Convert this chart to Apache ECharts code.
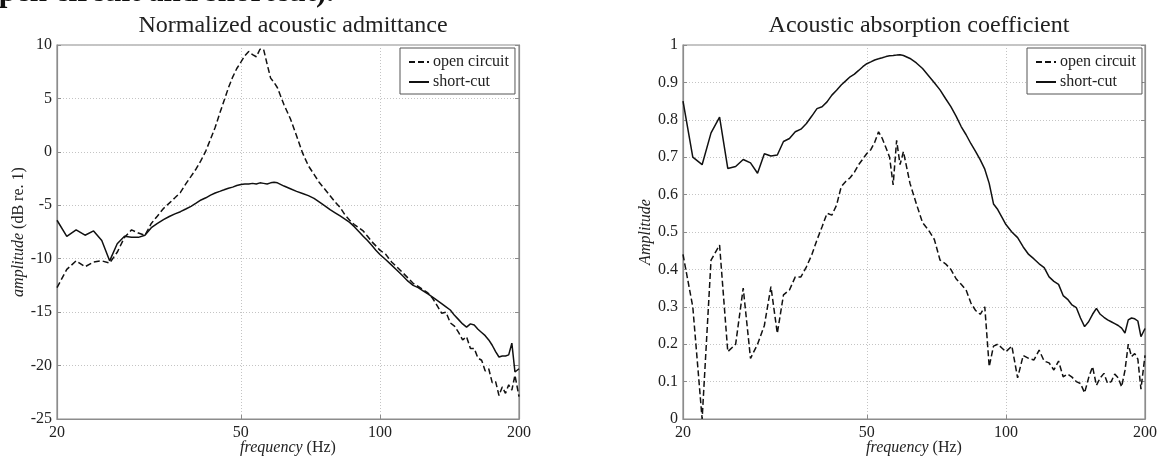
<!DOCTYPE html>
<html>
<head>
<meta charset="utf-8">
<title>Normalized acoustic admittance / Acoustic absorption coefficient</title>
<script src="https://cdn.jsdelivr.net/npm/echarts@6/dist/echarts.min.js"></script>
<style>
  html, body { margin: 0; padding: 0; background: #fff; }
  #chart { width: 1162px; height: 457px; }
</style>
</head>
<body>
<div id="chart"></div>
<script>
// frequency grid (Hz), shared by both panels
const freq = [
  20, 21, 22, 23, 24, 25, 26, 27, 28, 29,
  30, 31, 32, 33, 34, 35, 36, 37, 38, 39,
  40, 41, 42, 43, 44, 45, 46, 47, 48, 49,
  50, 51, 52, 53, 54, 55, 56, 57, 58, 59,
  60,
  62, 64, 66, 68, 70, 72, 74, 76, 78, 80,
  82, 84, 86, 88, 90, 92, 94, 96, 98, 100,
  103, 106, 109, 112, 115, 118, 121, 124, 127, 130,
  133, 136, 139, 142, 145, 148, 151, 154, 157, 160,
  163, 166, 169, 172, 175, 178, 181, 184, 187, 190,
  193, 196, 200
]

// normalized acoustic admittance, dB re. 1
const admOpen = [
  -12.7, -11.0, -10.2, -10.75, -10.3, -10.2, -10.4, -9.4, -8.0, -7.3,
  -7.6, -7.8, -6.7, -6.0, -5.3, -4.8, -4.3, -3.8, -3.0, -2.3,
  -1.6, -0.8, 0.1, 1.2, 2.3, 3.6, 4.8, 6.0, 7.0, 7.8,
  8.4, 9.0, 9.4, 9.1, 8.9, 9.6, 9.6, 8.2, 6.9, 6.5,
  6.0,
  4.4, 3.1, 1.5, -0.1, -1.3, -2.1, -2.9, -3.5, -4.1, -4.7,
  -5.2, -5.9, -6.4, -6.8, -7.1, -7.4, -7.9, -8.4, -8.8, -9.2,
  -9.6, -10.3, -10.8, -11.3, -11.8, -12.3, -12.6, -12.9, -13.2, -13.7,
  -14.4, -15.1, -15.0, -16.0, -16.3, -16.9, -17.6, -17.3, -18.4, -18.4,
  -19.3, -19.5, -20.5, -20.3, -21.6, -21.5, -22.8, -22.0, -22.6, -21.8,
  -22.3, -20.9, -22.9
]
const admShort = [
  -6.4, -7.9, -7.3, -7.8, -7.4, -8.3, -10.2, -8.6, -7.9, -8.0,
  -8.0, -7.8, -7.1, -6.7, -6.35, -6.05, -5.8, -5.6, -5.35, -5.1,
  -4.8, -4.5, -4.3, -4.05, -3.85, -3.7, -3.55, -3.4, -3.3, -3.15,
  -3.05, -3.0, -3.0, -2.95, -3.0, -2.9, -2.95, -3.0, -2.9, -2.85,
  -2.9,
  -3.2, -3.45, -3.7, -3.9, -4.1, -4.35, -4.7, -5.05, -5.4, -5.7,
  -6.0, -6.3, -6.6, -7.0, -7.45, -7.9, -8.3, -8.75, -9.2, -9.6,
  -10.1, -10.6, -11.1, -11.6, -12.1, -12.5, -12.7, -13.0, -13.3, -13.6,
  -13.9, -14.2, -14.5, -14.8, -15.3, -15.7, -16.1, -16.4, -16.1, -16.2,
  -16.6, -16.9, -17.2, -17.6, -18.1, -18.7, -19.2, -19.1, -19.1, -19.0,
  -17.9, -20.6, -20.3
]

// acoustic absorption coefficient
const absOpen = [
  0.44, 0.30, 0.0, 0.425, 0.465, 0.18, 0.20, 0.35, 0.162, 0.20,
  0.25, 0.354, 0.229, 0.332, 0.345, 0.38, 0.38, 0.407, 0.439, 0.479,
  0.514, 0.55, 0.545, 0.572, 0.621, 0.635, 0.645, 0.66, 0.68, 0.695,
  0.71, 0.72, 0.74, 0.768, 0.75, 0.725, 0.70, 0.626, 0.745, 0.68,
  0.715,
  0.63, 0.575, 0.525, 0.505, 0.48, 0.425, 0.415, 0.40, 0.375, 0.36,
  0.345, 0.31, 0.29, 0.28, 0.30, 0.14, 0.195, 0.20, 0.19, 0.18,
  0.195, 0.11, 0.17, 0.162, 0.158, 0.184, 0.155, 0.15, 0.131, 0.155,
  0.113, 0.12, 0.112, 0.10, 0.095, 0.07, 0.11, 0.14, 0.09, 0.11,
  0.122, 0.095, 0.10, 0.12, 0.11, 0.086, 0.13, 0.20, 0.167, 0.175,
  0.16, 0.08, 0.17
]
const absShort = [
  0.85, 0.70, 0.68, 0.765, 0.807, 0.67, 0.675, 0.694, 0.685, 0.657,
  0.709, 0.703, 0.706, 0.742, 0.75, 0.768, 0.775, 0.79, 0.81, 0.83,
  0.835, 0.848, 0.866, 0.879, 0.893, 0.904, 0.915, 0.922, 0.932, 0.942,
  0.95, 0.955, 0.96, 0.963, 0.966, 0.969, 0.971, 0.972, 0.973, 0.974,
  0.972,
  0.964, 0.952, 0.937, 0.918, 0.899, 0.88, 0.857, 0.835, 0.81, 0.782,
  0.76, 0.736, 0.715, 0.693, 0.668, 0.63, 0.575, 0.56, 0.54, 0.52,
  0.50, 0.485, 0.46, 0.44, 0.428, 0.415, 0.405, 0.38, 0.368, 0.36,
  0.33, 0.32, 0.305, 0.298, 0.27, 0.247, 0.26, 0.28, 0.296, 0.28,
  0.272, 0.265, 0.26, 0.255, 0.25, 0.243, 0.23, 0.265, 0.27, 0.268,
  0.262, 0.22, 0.242
]

const freqTicks = [20, 50, 100, 200]
const seriesNames = ['open circuit', 'short-cut']

const serif = "'Liberation Serif', 'Times New Roman', serif"
const ink = '#222'
const frame = '#8c8c8c'
const gridLine = '#c4c4c4'

let chart = echarts.init(document.getElementById('chart'))

function pairs(ys) {
  return freq.map((f, i) => [f, ys[i]])
}

function xAxisOf(gridIndex) {
  return {
    type: 'log',
    logBase: 10,
    gridIndex: gridIndex,
    min: 20,
    max: 200,
    name: '{i|frequency} (Hz)',
    nameLocation: 'middle',
    nameGap: 21,
    nameMoveOverlap: false,
    nameTextStyle: {
      fontFamily: serif, fontSize: 16, color: ink,
      rich: { i: { fontFamily: serif, fontSize: 16, color: ink, fontStyle: 'italic' } }
    },
    axisLine: { show: true, onZero: false, lineStyle: { color: frame, width: 1.2 } },
    axisTick: { show: true, inside: true, length: 4, customValues: freqTicks, lineStyle: { color: frame } },
    axisLabel: { customValues: freqTicks, fontFamily: serif, fontSize: 16, color: ink, margin: 6, formatter: v => String(Math.round(v)) },
    splitLine: { show: true, lineStyle: { color: gridLine, type: [1, 2] } },
    minorTick: { show: false },
    minorSplitLine: { show: false }
  }
}

function yAxisOf(gridIndex, min, max, interval, name, gap, fmt) {
  return {
    type: 'value',
    gridIndex: gridIndex,
    min: min,
    max: max,
    interval: interval,
    name: name,
    nameLocation: 'middle',
    nameGap: gap,
    nameTextStyle: {
      fontFamily: serif, fontSize: 16, color: ink,
      rich: { i: { fontFamily: serif, fontSize: 16, color: ink, fontStyle: 'italic' } }
    },
    axisLine: { show: true, onZero: false, lineStyle: { color: frame, width: 1.2 } },
    axisTick: { show: true, inside: true, length: 4, lineStyle: { color: frame } },
    axisLabel: { fontFamily: serif, fontSize: 16, color: ink, margin: 5, formatter: fmt },
    splitLine: { show: true, lineStyle: { color: gridLine, type: [1, 2] } }
  }
}

// unlabeled right-hand copy, only for the box ticks
function yTicksRight(gridIndex, min, max, interval) {
  return {
    type: 'value',
    gridIndex: gridIndex,
    position: 'right',
    min: min,
    max: max,
    interval: interval,
    axisLine: { show: true, onZero: false, lineStyle: { color: frame, width: 1.2 } },
    axisTick: { show: true, inside: true, length: 4, lineStyle: { color: frame } },
    axisLabel: { show: false },
    splitLine: { show: false }
  }
}

function lineOf(name, data, xi, yi, dashed) {
  return {
    name: name,
    type: 'line',
    xAxisIndex: xi,
    yAxisIndex: yi,
    data: data,
    color: '#111',
    symbol: 'none',
    showSymbol: false,
    smooth: false,
    clip: true,
    lineStyle: { color: '#111', width: 1.5, type: dashed ? [6, 3] : 'solid' },
    emphasis: { disabled: true }
  }
}

function legendAt(left) {
  return {
    left: left,
    top: 48,
    orient: 'vertical',
    data: seriesNames,
    backgroundColor: '#fff',
    borderColor: '#555',
    borderWidth: 1,
    borderRadius: 0,
    padding: [6, 6, 4, 8],
    itemGap: 4,
    itemWidth: 20,
    itemHeight: 16,
    selectedMode: false,
    itemStyle: { opacity: 0 },
    textStyle: { fontFamily: serif, fontSize: 16, color: ink, padding: [0, 0, 0, -1] }
  }
}

let option = {
  animation: false,
  backgroundColor: '#fff',
  title: [
    { text: 'Normalized acoustic admittance', left: 288, top: 9, textAlign: 'center',
      textStyle: { fontFamily: serif, fontSize: 24, fontWeight: 'normal', color: ink } },
    { text: 'Acoustic absorption coefficient', left: 914, top: 9, textAlign: 'center',
      textStyle: { fontFamily: serif, fontSize: 24, fontWeight: 'normal', color: ink } }
  ],
  graphic: [
    {
      type: 'text',
      left: -27,
      top: -23,
      silent: true,
      style: { text: '(open circuit and shortcut).', font: 'bold 31px ' + serif, fill: '#111' }
    }
  ],
  legend: [legendAt(400), legendAt(1027)],
  grid: [
    { left: 57, top: 45, width: 462, height: 374, outerBoundsMode: 'none', show: true, borderColor: frame, borderWidth: 1.2, backgroundColor: '#fff' },
    { left: 683, top: 45, width: 462, height: 374, outerBoundsMode: 'none', show: true, borderColor: frame, borderWidth: 1.2, backgroundColor: '#fff' }
  ],
  xAxis: [xAxisOf(0), xAxisOf(1)],
  yAxis: [
    yAxisOf(0, -25, 10, 5, '{i|amplitude} (dB re. 1)', 30, v => String(v)),
    yAxisOf(1, 0, 1, 0.1, '{i|Amplitude}', 29, v => String(Math.round(v * 10) / 10)),
    yTicksRight(0, -25, 10, 5),
    yTicksRight(1, 0, 1, 0.1)
  ],
  series: [
    lineOf(seriesNames[0], pairs(admOpen), 0, 0, true),
    lineOf(seriesNames[1], pairs(admShort), 0, 0, false),
    lineOf(seriesNames[0], pairs(absOpen), 1, 1, true),
    lineOf(seriesNames[1], pairs(absShort), 1, 1, false)
  ]
}

chart.setOption(option)
window.addEventListener('resize', () => chart.resize())
</script>
</body>
</html>
